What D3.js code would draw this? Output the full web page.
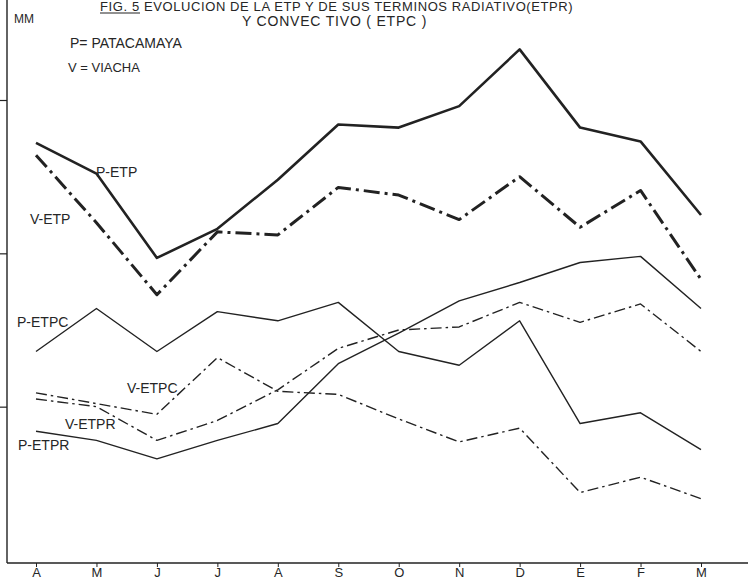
<!DOCTYPE html>
<html>
<head>
<meta charset="utf-8">
<script src="https://cdn.jsdelivr.net/npm/d3@7"></script>
<style>
  html, body { margin: 0; padding: 0; background: #fff; }
  svg { display: block; }
  text { font-family: "Liberation Sans", Arial, sans-serif; fill: #262626; }
</style>
</head>
<body>
<svg id="chart" width="748" height="581"></svg>
<script>
// Months, April to March
const months = ["A", "M", "J", "J", "A", "S", "O", "N", "D", "E", "F", "M"];

// Monthly values, mm
const pETP  = [136, 126, 98.5, 108, 124, 142, 141, 148, 166.5, 141, 136.5, 112.5];
const vETP  = [132, 110, 86.5, 107, 106, 121.5, 119, 111, 125, 108.5, 120.5, 91.5];
const pETPC = [68, 82, 68, 81, 78, 84, 68, 63.5, 78, 44.5, 48, 36];
const vETPC = [54.5, 51, 47.5, 66, 55, 54, 46, 38.5, 43, 22, 27, 20];
const pETPR = [42, 39, 33, 39, 44.5, 64, 74, 84.5, 90.5, 97, 99, 82];
const vETPR = [52.5, 50, 39, 45.5, 55.5, 69, 75, 76, 84, 77.5, 83.5, 68];

// Reference marks on the vertical axis, mm
const yTicks = [50, 100, 150];

const svg = d3.select("#chart");
const ink = "#222";

const x = d3.scalePoint().domain(d3.range(months.length)).range([36, 701]);
const y = d3.scaleLinear().domain([0, 150]).range([560, 100]);

const axisX = 7, axisY = 563;

// Vertical axis
const gy = svg.append("g").attr("transform", `translate(${axisX},0)`)
  .call(d3.axisLeft(y).tickValues(yTicks).tickSize(7).tickFormat(""));
gy.select(".domain").remove();
gy.selectAll(".tick line").attr("stroke", ink).attr("stroke-width", 1.2);
svg.append("line").attr("x1", axisX).attr("x2", axisX).attr("y1", 0).attr("y2", axisY)
  .attr("stroke", ink).attr("stroke-width", 1.4);

// Horizontal axis
const gx = svg.append("g").attr("transform", `translate(0,${axisY})`)
  .call(d3.axisBottom(x).tickSize(4).tickPadding(1).tickFormat(i => months[i]));
gx.select(".domain").remove();
gx.selectAll(".tick line").attr("stroke", ink).attr("stroke-width", 1);
gx.selectAll(".tick text").attr("font-size", 13).attr("fill", ink)
  .style("font-family", "'Liberation Sans', Arial, sans-serif");
svg.append("line").attr("x1", axisX).attr("x2", 748).attr("y1", axisY).attr("y2", axisY)
  .attr("stroke", ink).attr("stroke-width", 1.6);

// Series
const line = d3.line().x((d, i) => x(i)).y(d => y(d));
const series = [
  { values: pETP,  width: 2.6, dash: null },
  { values: vETP,  width: 3,   dash: "16 5 3 5" },
  { values: pETPC, width: 1.4, dash: null },
  { values: vETPC, width: 1.4, dash: "11 4 2.5 4" },
  { values: pETPR, width: 1.4, dash: null },
  { values: vETPR, width: 1.4, dash: "11 4 2.5 4" }
];
svg.append("g").selectAll("path").data(series).join("path")
  .attr("d", s => line(s.values))
  .attr("fill", "none")
  .attr("stroke", ink)
  .attr("stroke-width", s => s.width)
  .attr("stroke-linejoin", "round")
  .attr("stroke-dasharray", s => s.dash);

// Titles and annotations
const note = (t, tx, ty, size) => svg.append("text")
  .attr("x", tx).attr("y", ty).attr("font-size", size || 14).text(t);

note("FIG. 5  EVOLUCION  DE  LA  ETP  Y  DE  SUS  TERMINOS  RADIATIVO(ETPR)", 100, 11, 13)
  .attr("letter-spacing", 0.6);
svg.append("line").attr("x1", 100).attr("x2", 140).attr("y1", 13).attr("y2", 13)
  .attr("stroke", ink).attr("stroke-width", 1.2);
note("Y    CONVEC TIVO ( ETPC )", 242, 26, 14).attr("letter-spacing", 0.8);
note("MM", 14, 23, 12);
note("P= PATACAMAYA", 70, 48, 14);
note("V = VIACHA", 68, 72, 13);

note("P-ETP", 96, 177, 14);
note("V-ETP", 30, 224, 14);
note("P-ETPC", 17, 327, 14);
note("V-ETPC", 127, 393, 14);
note("V-ETPR", 65, 429, 14);
note("P-ETPR", 18, 450, 14);
</script>
</body>
</html>
